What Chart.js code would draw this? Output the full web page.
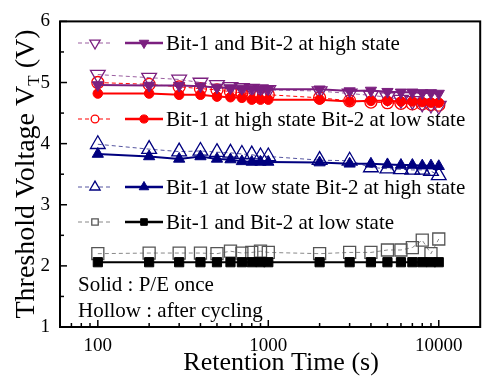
<!DOCTYPE html>
<html>
<head>
<meta charset="utf-8">
<script src="https://cdn.jsdelivr.net/npm/chart.js@4/dist/chart.umd.min.js"></script>
<style>
  html, body { margin: 0; padding: 0; background: #fff; }
  #c { display: block; }
  .pre { font-family: "Liberation Serif"; position: absolute; left: -999px; }
</style>
</head>
<body>
<span class="pre">Threshold</span>
<canvas id="c" width="490" height="381"></canvas>
<script>
// retention times (s)
const times = [100, 200, 300, 400, 500, 600, 700, 800, 900, 1000,
  2000, 3000, 4000, 5000, 6000, 7000, 8000, 9000, 10000];

// solid = P/E once, hollow = after cycling
const hhSolid  = [4.96, 4.95, 4.95, 4.94, 4.92, 4.91, 4.90, 4.90, 4.89, 4.89,
  4.89, 4.86, 4.87, 4.85, 4.84, 4.84, 4.83, 4.83, 4.82];
const hhHollow = [5.13, 5.08, 5.05, 5.00, 4.96, 4.93, 4.91, 4.90, 4.89, 4.88,
  4.86, 4.82, 4.79, 4.76, 4.72, 4.70, 4.66, 4.64, 4.62];
const hlSolid  = [4.82, 4.82, 4.80, 4.80, 4.77, 4.76, 4.75, 4.72, 4.72, 4.72,
  4.72, 4.69, 4.70, 4.70, 4.69, 4.69, 4.68, 4.67, 4.67];
const hlHollow = [5.00, 4.97, 4.93, 4.90, 4.88, 4.85, 4.83, 4.82, 4.80, 4.80,
  4.75, 4.70, 4.68, 4.67, 4.66, 4.65, 4.65, 4.64, 4.63];
const lhSolid  = [3.83, 3.79, 3.75, 3.79, 3.75, 3.74, 3.71, 3.70, 3.70, 3.70,
  3.69, 3.67, 3.67, 3.66, 3.65, 3.65, 3.64, 3.64, 3.63];
const lhHollow = [3.99, 3.91, 3.87, 3.88, 3.86, 3.85, 3.83, 3.82, 3.79, 3.79,
  3.73, 3.72, 3.61, 3.59, 3.58, 3.57, 3.57, 3.55, 3.48];
const llSolid  = [2.06, 2.06, 2.06, 2.06, 2.06, 2.06, 2.06, 2.06, 2.06, 2.06,
  2.06, 2.06, 2.06, 2.06, 2.06, 2.06, 2.06, 2.06, 2.06];
const llHollow = [2.20, 2.21, 2.21, 2.21, 2.20, 2.24, 2.21, 2.22, 2.24, 2.22,
  2.20, 2.22, 2.22, 2.26, 2.26, 2.30, 2.42, 2.20, 2.44];

const legendLabels = [
  "Bit-1 and Bit-2 at high state",
  "Bit-1 at high state Bit-2 at low state",
  "Bit-1 at low state Bit-2 at high state",
  "Bit-1 and Bit-2 at low state"
];
const xTicks = [100, 1000, 10000];
const yTicks = [1, 2, 3, 4, 5, 6];

const FONT = '"Liberation Serif", "DejaVu Serif", serif';
const PURPLE = "#7b1f7f", RED = "#ff0000", BLUE = "#00007f", BLACK = "#000000";

function pts(arr) { return times.map((t, i) => ({ x: t, y: arr[i] })); }

function solidSet(arr, color, style, r, rot) {
  return {
    data: pts(arr), showLine: true, borderColor: color, backgroundColor: color,
    borderWidth: 2, pointStyle: style, pointRadius: r, pointRotation: rot || 0,
    pointBorderWidth: 1, pointBorderColor: color, pointBackgroundColor: color
  };
}
function hollowSet(arr, color, lineColor, style, r, rot) {
  return {
    data: pts(arr), showLine: true, borderColor: lineColor, borderWidth: 1,
    borderDash: [4, 3], pointStyle: style, pointRadius: r, pointRotation: rot || 0,
    pointBorderWidth: 1.3, pointBorderColor: color, pointBackgroundColor: "rgba(255,255,255,0)"
  };
}

const entries = [
  { y: 43, hollowColor: PURPLE, lineColor: "#9b5fa0", solidColor: PURPLE, style: "triangle", rot: 180, rh: 8.5, rs: 6.5 },
  { y: 119, hollowColor: RED, lineColor: RED, solidColor: RED, style: "circle", rot: 0, rh: 5.5, rs: 4.8 },
  { y: 187, hollowColor: BLUE, lineColor: "#5555a0", solidColor: BLUE, style: "triangle", rot: 0, rh: 8.5, rs: 6.5 },
  { y: 222, hollowColor: "#555555", lineColor: "#888888", solidColor: BLACK, style: "rect", rot: 0, rh: 6.5, rs: 5.5 }
];

const decor = {
  id: "decor",
  afterDraw(chart) {
    const ctx = chart.ctx, a = chart.chartArea;
    const xs = chart.scales.x, ys = chart.scales.y;
    ctx.save();
    // frame
    ctx.strokeStyle = "#000"; ctx.lineWidth = 2;
    ctx.strokeRect(a.left, a.top, a.right - a.left, a.bottom - a.top);
    // inward ticks on x
    ctx.lineWidth = 1.5;
    for (let d = 10; d <= 10000; d *= 10) {
      for (let m = 1; m < 10; m++) {
        const v = d * m;
        if (v < xs.min || v > xs.max) continue;
        const px = xs.getPixelForValue(v);
        const len = m === 1 ? 7 : 4;
        ctx.beginPath(); ctx.moveTo(px, a.bottom); ctx.lineTo(px, a.bottom - len); ctx.stroke();
      }
    }
    // inward ticks on y
    for (let v = 1; v <= 6.001; v += 0.5) {
      const py = ys.getPixelForValue(v);
      const len = Math.abs(v - Math.round(v)) < 0.01 ? 7 : 4;
      ctx.beginPath(); ctx.moveTo(a.left, py); ctx.lineTo(a.left + len, py); ctx.stroke();
    }
    // legend
    ctx.textBaseline = "middle";
    entries.forEach((e, i) => {
      ctx.setLineDash([4, 3]); ctx.lineWidth = 1; ctx.strokeStyle = e.lineColor;
      ctx.beginPath(); ctx.moveTo(78, e.y); ctx.lineTo(113, e.y); ctx.stroke();
      ctx.setLineDash([]);
      ctx.lineWidth = 1.3; ctx.strokeStyle = e.hollowColor; ctx.fillStyle = "#fff";
      Chart.helpers.drawPoint(ctx, { pointStyle: e.style, radius: e.rh * 0.7, rotation: e.rot, borderWidth: 1.3 }, 95, e.y);
      ctx.lineWidth = 2.5; ctx.strokeStyle = e.solidColor;
      ctx.beginPath(); ctx.moveTo(125, e.y); ctx.lineTo(163, e.y); ctx.stroke();
      ctx.lineWidth = 1; ctx.fillStyle = e.solidColor;
      Chart.helpers.drawPoint(ctx, { pointStyle: e.style, radius: e.rs * 0.85, rotation: e.rot, borderWidth: 1 }, 144, e.y);
      ctx.fillStyle = "#000"; ctx.font = "21px " + FONT; ctx.textAlign = "left";
      ctx.fillText(legendLabels[i], 166, e.y + 1);
    });
    ctx.font = "21px " + FONT;
    ctx.fillText("Solid : P/E once", 78, 285);
    ctx.fillText("Hollow : after cycling", 78, 311);
    // x title
    ctx.font = "26px " + FONT; ctx.textAlign = "center";
    ctx.fillText("Retention Time (s)", (a.left + a.right) / 2 + 11, 363);
    // y title with subscript
    ctx.translate(27, 174); ctx.rotate(-Math.PI / 2);
    const f1 = "28px " + FONT, f2 = "17px " + FONT;
    const p1 = "Threshold Voltage V", p2 = "T", p3 = " (V)";
    ctx.font = f1; const w1 = ctx.measureText(p1).width, w3 = ctx.measureText(p3).width;
    ctx.font = f2; const w2 = ctx.measureText(p2).width;
    let x0 = -(w1 + w2 + w3) / 2;
    ctx.textAlign = "left";
    ctx.font = f1; ctx.fillText(p1, x0, 0);
    ctx.font = f2; ctx.fillText(p2, x0 + w1, 8);
    ctx.font = f1; ctx.fillText(p3, x0 + w1 + w2, 0);
    ctx.restore();
  }
};

function build() {
  new Chart(document.getElementById("c"), {
    type: "scatter",
    data: {
      datasets: [
        solidSet(hhSolid, PURPLE, "triangle", 6.5, 180),
        solidSet(hlSolid, RED, "circle", 4.8),
        solidSet(lhSolid, BLUE, "triangle", 6.5),
        solidSet(llSolid, BLACK, "rect", 6.5),
        hollowSet(hhHollow, PURPLE, "#9b5fa0", "triangle", 8.5, 180),
        hollowSet(hlHollow, RED, RED, "circle", 6),
        hollowSet(lhHollow, BLUE, "#5555a0", "triangle", 8.5),
        hollowSet(llHollow, "#555555", "#888888", "rect", 8.5)
      ]
    },
    options: {
      responsive: false,
      animation: false,
      layout: { padding: { left: 0, right: 1, top: 16, bottom: 0 } },
      plugins: { legend: { display: false }, tooltip: { enabled: false } },
      scales: {
        x: {
          type: "logarithmic", min: 60, max: 17500,
          grid: { display: false, drawTicks: false },
          border: { display: false },
          afterBuildTicks(s) { s.ticks = xTicks.map(v => ({ value: v })); },
          afterFit(s) { s.height = 54; },
          ticks: { color: "#000", font: { family: FONT, size: 19 }, padding: 8,
            maxRotation: 0, callback: v => String(v) }
        },
        y: {
          min: 1, max: 6,
          grid: { display: false, drawTicks: false },
          border: { display: false },
          afterBuildTicks(s) { s.ticks = yTicks.map(v => ({ value: v })); },
          afterFit(s) { s.width = 60; },
          ticks: { color: "#000", font: { family: FONT, size: 19 }, padding: 10 }
        }
      }
    },
    plugins: [decor]
  });
}

document.fonts.load('18px "Liberation Serif"').then(build, build);
</script>
</body>
</html>
